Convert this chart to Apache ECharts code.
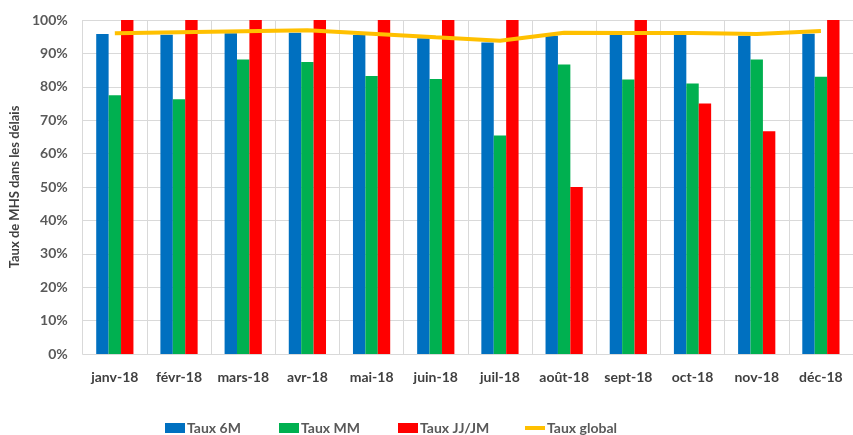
<!DOCTYPE html>
<html><head><meta charset="utf-8">
<script src="https://cdn.jsdelivr.net/npm/echarts@6/dist/echarts.min.js"></script>
<style>html,body{margin:0;padding:0;background:#fff}#c{width:853px;height:435px}</style>
</head><body><div id="c"></div>
<script>
const categories = ['janv-18','févr-18','mars-18','avr-18','mai-18','juin-18','juil-18','août-18','sept-18','oct-18','nov-18','déc-18'];
const taux6M = [95.8, 95.6, 96.0, 96.2, 95.5, 94.5, 93.3, 95.3, 95.5, 95.5, 95.3, 95.9];
const tauxMM = [77.5, 76.3, 88.2, 87.4, 83.2, 82.3, 65.4, 86.7, 82.2, 81.0, 88.2, 83.0];
const tauxJJ = [100, 100, 100, 100, 100, 100, 100, 50, 100, 75, 66.7, 100];
const tauxGlobal = [96.0, 96.3, 96.6, 96.9, 95.9, 94.8, 93.8, 96.2, 96.1, 96.1, 95.8, 96.7];
const yTicks = [0,10,20,30,40,50,60,70,80,90,100];
const legendItems = [
  {name: 'Taux 6M', icon: 'rect'},
  {name: 'Taux MM', icon: 'rect'},
  {name: 'Taux JJ/JM', icon: 'rect'},
  {name: 'Taux global', icon: 'path://M0,0 H40 V8 H0 Z'}
];
const legendLefts = [165, 279, 398, 525];

const font = "Lato, 'Open Sans', 'Liberation Sans', sans-serif";
const chart = echarts.init(document.getElementById('c'));
chart.setOption({
  animation: false,
  grid: {left: 82, top: 20, width: 772, height: 334, containLabel: false},
  legend: legendItems.map((it, i) => ({
    left: legendLefts[i], top: 420, itemWidth: 20, itemHeight: 10, padding: 0,
    textStyle: {fontFamily: font, fontWeight: 'bold', fontSize: 14, lineHeight: 16, color: '#595959', padding: [0,0,0,-3]},
    data: [it]
  })),
  xAxis: {
    type: 'category', data: categories, boundaryGap: true,
    axisLine: {lineStyle: {color: '#d9d9d9', width: 1}},
    axisTick: {show: false},
    splitLine: {show: true, interval: 0, lineStyle: {color: '#d9d9d9', width: 1}},
    axisLabel: {interval: 0, margin: 16, fontFamily: font, fontWeight: 'bold', fontSize: 14, color: '#404040'}
  },
  yAxis: {
    type: 'value', min: 0, max: 100, interval: 10,
    name: 'Taux de MHS dans les délais', nameLocation: 'middle', nameGap: 56, nameRotate: 90,
    nameTextStyle: {fontFamily: font, fontWeight: 'bold', fontSize: 13, color: '#404040'},
    axisLine: {show: false}, axisTick: {show: false},
    splitLine: {lineStyle: {color: '#d9d9d9', width: 1}},
    axisLabel: {margin: 15, fontFamily: font, fontWeight: 'bold', fontSize: 14, color: '#595959',
      formatter: v => yTicks.includes(v) ? v + '%' : ''}
  },
  series: [
    {name: 'Taux 6M', type: 'bar', data: taux6M, barGap: '0%', barCategoryGap: '42%',
      itemStyle: {color: '#0070C0'}},
    {name: 'Taux MM', type: 'bar', data: tauxMM, itemStyle: {color: '#00B050'}},
    {name: 'Taux JJ/JM', type: 'bar', data: tauxJJ, itemStyle: {color: '#FF0000'}},
    {name: 'Taux global', type: 'line', data: tauxGlobal, symbol: 'none',
      lineStyle: {color: '#FFC000', width: 4}, itemStyle: {color: '#FFC000'}}
  ]
});
</script></body></html>
